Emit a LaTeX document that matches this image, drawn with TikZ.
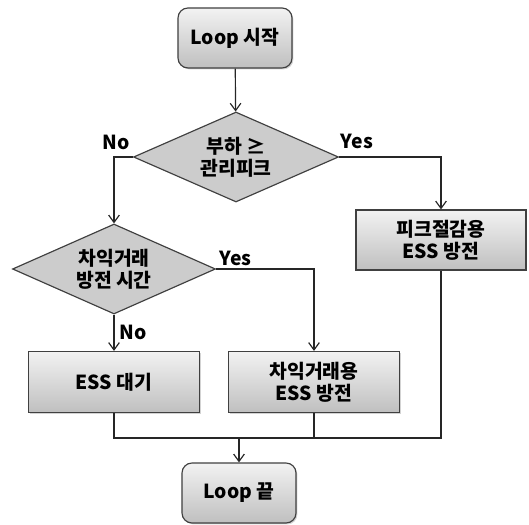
\documentclass[tikz,border=0pt]{standalone}
\usepackage{fontspec}
\setmainfont{Noto Sans CJK KR}
\usetikzlibrary{arrows.meta,shapes.geometric,shadows,positioning}

\begin{document}
\begin{tikzpicture}[
        x=0.03cm,
        y=0.03cm,
        font=\fontsize{16.5}{18.5}\selectfont\bfseries,
        box/.style={
            rectangle,
            draw=black!75,
            line width=1pt,
            top color=black!5,
            bottom color=black!25,
            align=center,
            drop shadow={opacity=0.35, shadow xshift=1.2pt, shadow yshift=-1.2pt},
        },
        term/.style={
            box,
            rounded corners=0.3cm,
            minimum width=3.42cm,
            minimum height=1.8cm,
        },
        proc/.style={
            box,
            minimum width=5.13cm,
            minimum height=1.83cm,
        },
        decision/.style={
            diamond,
            draw=black!75,
            line width=1pt,
            fill=black!20,
            align=center,
            inner sep=0pt,
            aspect=2.28,
        },
        line/.style={
            draw=black!85,
            line width=1pt,
        },
        arr/.style={
            line,
            -{Straight Barb[length=2.2mm, width=3.2mm]},
        },
        lbl/.style={
            inner sep=0pt,
        },
    ]
    \useasboundingbox (0,0) rectangle (529,524);

    \node [term] (start) at (235,486) {Loop 시작};
    \node [decision, minimum width=6.15cm, minimum height=2.7cm] (load) at (236,367) {부하 ≥\\관리피크};
    \node [decision, minimum width=6.09cm, minimum height=2.7cm] (arbtime) at (114,255) {차익거래\\방전 시간};
    \node [box, minimum width=5.1cm, minimum height=1.8cm] (peak) at (441,284) {피크절감용\\ESS 방전};
    \node [proc] (wait) at (114,142) {ESS 대기};
    \node [proc] (arb) at (314,142) {차익거래용\\ESS 방전};
    \node [term] (end) at (239,31) {Loop 끝};

    \node [lbl, above left=0.2cm and 0.1cm of load.west] (loadno) {No};
    \node [lbl, above right=0.25cm and 0.05cm of load.east] (loadyes) {Yes};
    \node [lbl, above right=0.1cm and 0.1cm of arbtime.east] (arbyes) {Yes};
    \node [lbl, below right=0.3cm and 0.15cm of arbtime.south] (arbno) {No};

    \coordinate (merge) at (239,86);

    \draw [arr] (start) -- (load);
    \draw [arr] (load.west) -| (arbtime.north);
    \draw [arr] (load.east) -| (peak.north);
    \draw [arr] (arbtime.south) -- (wait.north);
    \draw [arr] (arbtime.east) -| (arb.north);
    \draw [line] (wait.south) |- (peak.south |- merge) -- (peak.south);
    \draw [line] (arb.south) -- (arb.south |- merge);
    \draw [arr] (merge) -- (end);
\end{tikzpicture}
\end{document}
